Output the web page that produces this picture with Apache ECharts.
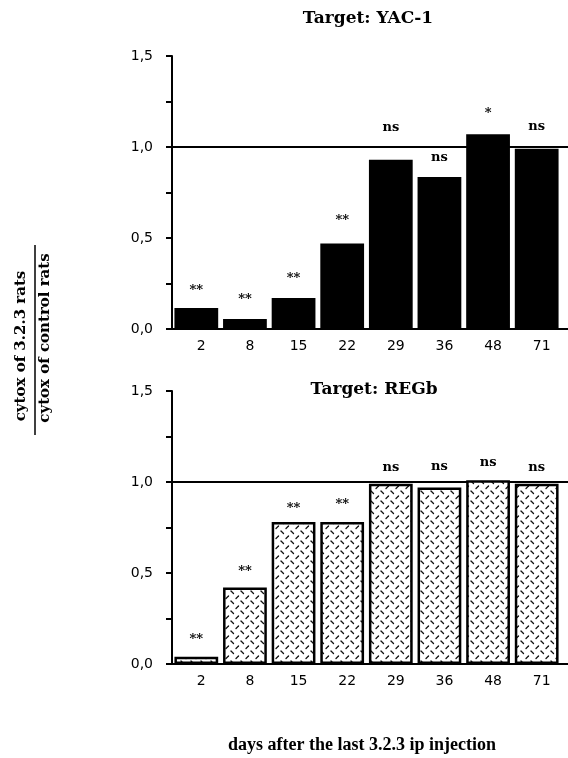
<!DOCTYPE html>
<html>
<head>
<meta charset="utf-8">
<script src="https://cdn.jsdelivr.net/npm/echarts@6/dist/echarts.min.js"></script>
<style>html,body{margin:0;padding:0;background:#fff;}#c{width:568px;height:758px;}</style>
</head>
<body>
<div id="c"></div>
<script>
// ---- data ----
const days = ['2', '8', '15', '22', '29', '36', '48', '71'];
const yacValues = [0.115, 0.055, 0.17, 0.47, 0.93, 0.835, 1.07, 0.99];
const yacSig = ['**', '**', '**', '**', 'ns', 'ns', '*', 'ns'];
const regValues = [0.04, 0.42, 0.78, 0.78, 0.99, 0.97, 1.01, 0.99];
const regSig = ['**', '**', '**', '**', 'ns', 'ns', 'ns', 'ns'];
const yTicks = [0, 0.5, 1.0, 1.5];
const refValue = 1.0;

// ---- style helpers ----
const yacLift = [11, 13, 13, 16, 26, 13, 14, 16];
const regLift = [11, 9, 7, 11, 10, 14, 11, 10];

function makePattern() {
  const c = document.createElement('canvas');
  c.width = 10; c.height = 10;
  const g = c.getContext('2d');
  g.fillStyle = '#fff'; g.fillRect(0, 0, 10, 10);
  g.strokeStyle = '#111'; g.lineWidth = 1.3; g.lineCap = 'round';
  g.beginPath(); g.moveTo(1, 1); g.lineTo(3.5, 3.5); g.stroke();
  g.beginPath(); g.moveTo(6, 8.5); g.lineTo(8.5, 6); g.stroke();
  return c;
}

const chart = echarts.init(document.getElementById('c'), null, {renderer: 'canvas'});
const gridLeft = 172, gridWidth = 389, gridH = 273;
const tops = [56, 391];

function xAx(i) {
  return {
    type: 'category', gridIndex: i, data: days,
    axisLine: {lineStyle: {color: '#000', width: 2}},
    axisTick: {length: 5, lineStyle: {color: '#000', width: 2}},
    axisLabel: {color: '#000', fontFamily: 'DejaVu Sans', fontSize: 14, margin: 10, padding: [0, 0, 0, 10]}
  };
}
function yAx(i) {
  return {
    type: 'value', gridIndex: i, min: 0, max: 1.5, interval: 0.25,
    axisLine: {show: true, lineStyle: {color: '#000', width: 2}},
    axisTick: {show: true, length: 6, lineStyle: {color: '#000', width: 2}},
    splitLine: {show: false},
    axisLabel: {
      color: '#000', fontFamily: 'DejaVu Sans', fontSize: 14, margin: 19,
      formatter: v => yTicks.some(t => Math.abs(t - v) < 1e-9) ? v.toFixed(1).replace('.', ',') : ''
    }
  };
}
function barSeries(i, vals, sig, lift, style) {
  return {
    type: 'bar', xAxisIndex: i, yAxisIndex: i, barWidth: '90%', z: 3,
    data: vals.map((v, k) => ({
      value: v,
      label: {show: true, position: 'top', distance: lift[k], formatter: () => sig[k],
        fontFamily: 'DejaVu Serif', fontWeight: 'bold', fontSize: 13, color: '#000'}
    })),
    itemStyle: style
  };
}

const option = {
  animation: false,
  grid: tops.map(t => ({left: gridLeft, top: t, width: gridWidth, height: gridH})),
  xAxis: [xAx(0), xAx(1)],
  yAxis: [yAx(0), yAx(1)],
  series: [
    barSeries(0, yacValues, yacSig, yacLift, {color: '#000'}),
    barSeries(1, regValues, regSig, regLift, {color: {image: makePattern(), repeat: 'repeat'}, borderColor: '#000', borderWidth: 2.5})
  ]
};
chart.setOption(option);

const titleFont = 'bold 17px "DejaVu Serif"';
const graphics = [
  {type: 'text', x: 368, y: 19, style: {text: 'Target: YAC-1', font: titleFont, fill: '#000', align: 'center', verticalAlign: 'middle'}},
  {type: 'text', x: 374, y: 390, style: {text: 'Target: REGb', font: titleFont, fill: '#000', align: 'center', verticalAlign: 'middle'}},
  {type: 'text', x: 362, y: 745, style: {text: 'days after the last 3.2.3 ip injection', font: 'bold 18px "Liberation Serif"', fill: '#000', align: 'center', verticalAlign: 'middle'}},
  {type: 'text', x: 21, y: 346, rotation: Math.PI / 2, style: {text: 'cytox of 3.2.3 rats', font: 'bold 15px "DejaVu Serif"', fill: '#000', align: 'center', verticalAlign: 'middle'}},
  {type: 'text', x: 45, y: 338, rotation: Math.PI / 2, style: {text: 'cytox of control rats', font: 'bold 15px "DejaVu Serif"', fill: '#000', align: 'center', verticalAlign: 'middle'}},
  {type: 'line', shape: {x1: 35, y1: 245, x2: 35, y2: 435}, style: {stroke: '#000', lineWidth: 1.5}}
];
[0, 1].forEach(i => {
  const yRef = chart.convertToPixel({yAxisIndex: i}, refValue);
  const y0 = chart.convertToPixel({yAxisIndex: i}, 0);
  graphics.push({type: 'line', z: 1, shape: {x1: gridLeft, y1: yRef, x2: 568, y2: yRef}, style: {stroke: '#000', lineWidth: 2}});
  graphics.push({type: 'line', z: 1, shape: {x1: gridLeft, y1: y0, x2: 568, y2: y0}, style: {stroke: '#000', lineWidth: 2}});
});
chart.setOption({graphic: graphics});
</script>
</body>
</html>
